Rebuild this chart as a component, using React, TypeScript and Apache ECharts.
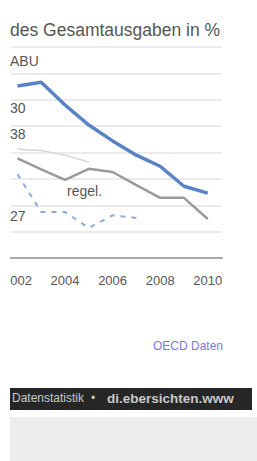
import React, { useEffect, useRef } from "react";
import * as echarts from "echarts";

const years = [2002, 2003, 2004, 2005, 2006, 2007, 2008, 2009, 2010];
const tickYears = [2002, 2004, 2006, 2008, 2010];
const blueValues = [32.6, 33.3, 29.0, 25.2, 22.2, 19.5, 17.4, 13.6, 12.3];
const grayValues = [18.9, 16.8, 14.8, 16.9, 16.3, 13.8, 11.4, 11.4, 7.4];
const dashedValues = [15.9, 8.7, 8.7, 5.7, 8.1, 7.6, null, null, null];
const lightValues = [20.6, 20.4, 19.5, 18.2, null, null, null, null, null];
const sideLabels = ["ABU", "30", "38", "27"];
const sideLabelY = [62, 109, 135, 217];

const pairs = (vals: (number | null)[]) => years.map((y, i) => [y, vals[i]]);

export default function App() {
  const ref = useRef<HTMLDivElement>(null);
  useEffect(() => {
    document.body.style.margin = "0";
    const chart = echarts.init(ref.current!, null, { renderer: "svg" });
    const font = "Liberation Sans, Arial, sans-serif";
    chart.setOption({
      animation: false,
      grid: { left: 0, right: 35, top: 47, bottom: 461 - 258, containLabel: false },
      xAxis: {
        type: "value",
        min: 2001.72,
        max: 2010.6,
        axisLine: { show: true, lineStyle: { color: "#a8a8a8", width: 2 } },
        axisTick: { show: false },
        splitLine: { show: false },
        axisLabel: {
          color: "#555",
          fontSize: 13,
          fontFamily: font,
          margin: 16,
          customValues: tickYears,
          formatter: (v: number) => String(Math.round(v)),
        },
      },
      yAxis: {
        type: "value",
        min: 0,
        max: 40,
        interval: 5,
        axisLabel: { show: false },
        axisLine: { show: false },
        axisTick: { show: false },
        splitLine: { lineStyle: { color: "#e4e4e4", width: 1.5 } },
      },
      series: [
        {
          type: "line",
          data: pairs(lightValues),
          symbol: "none",
          lineStyle: { color: "#d6d6d6", width: 1.5 },
        },
        {
          type: "line",
          data: pairs(grayValues),
          symbol: "none",
          lineStyle: { color: "#9a9a9a", width: 2.5 },
        },
        {
          type: "line",
          data: pairs(dashedValues),
          symbol: "none",
          lineStyle: { color: "#8eaad8", width: 2, type: [5, 6] },
        },
        {
          type: "line",
          data: pairs(blueValues),
          symbol: "none",
          lineStyle: { color: "#5a82c6", width: 3.5 },
        },
      ],
      graphic: [
        {
          type: "text",
          left: 10,
          top: 21,
          style: { text: "des Gesamtausgaben in %", fill: "#555", fontSize: 17.5, fontFamily: font },
        },
        ...sideLabels.map((t, i) => ({
          type: "text",
          left: 10,
          top: sideLabelY[i] - 8,
          style: { text: t, fill: "#555", fontSize: 14, fontFamily: font },
        })),
        {
          type: "text",
          left: 67,
          top: 184,
          style: { text: "regel.", fill: "#555", fontSize: 14, fontFamily: font },
        },
        {
          type: "text",
          left: 153,
          top: 340,
          style: { text: "OECD Daten", fill: "#7b7bd4", fontSize: 12, fontFamily: font },
        },
        {
          type: "rect",
          shape: { x: 10, y: 388, width: 242, height: 22 },
          style: { fill: "#262626" },
        },
        {
          type: "text",
          left: 12,
          top: 392,
          style: { text: "Datenstatistik", fill: "#c8c8c8", fontSize: 12, fontFamily: font },
        },
        {
          type: "text",
          left: 91,
          top: 392,
          style: { text: "•", fill: "#c8c8c8", fontSize: 12, fontFamily: font },
        },
        {
          type: "text",
          left: 107,
          top: 391,
          style: { text: "di.ebersichten.www", fill: "#c8c8c8", fontSize: 13.5, fontWeight: "bold", fontFamily: font },
        },
        {
          type: "rect",
          shape: { x: 10, y: 417, width: 247, height: 44 },
          style: { fill: "#ececec" },
        },
        {
          type: "rect",
          z: 100,
          shape: { x: 0, y: 0, width: 10, height: 461 },
          style: { fill: "#ffffff" },
        },
      ],
    });
    return () => chart.dispose();
  }, []);
  return <div ref={ref} style={{ width: 257, height: 461, overflow: "hidden" }} />;
}
